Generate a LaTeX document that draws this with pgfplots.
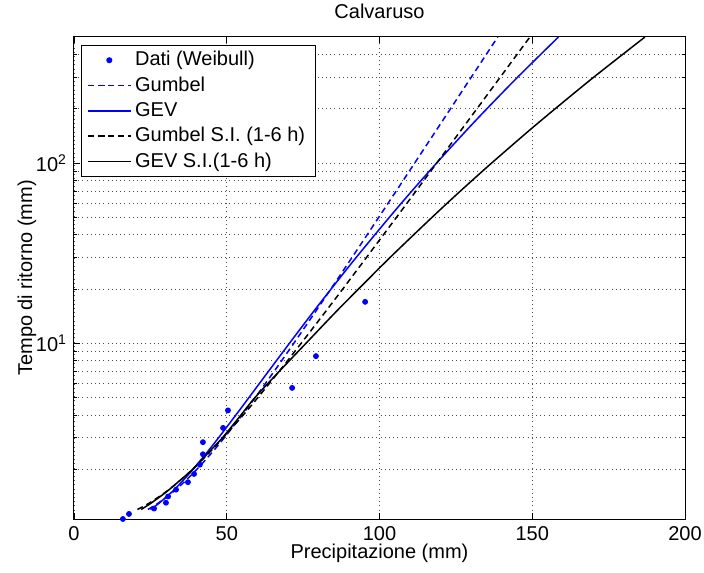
\documentclass[border=0pt]{standalone}
\usepackage{fontspec}
\setmainfont{Liberation Sans}
\usepackage{pgfplots}
\pgfplotsset{compat=1.18}

% punti Weibull: (precipitazione, tempo di ritorno)
\pgfplotstableread{
x T
16.0 1.0625
18.0 1.1333
26.2 1.2143
30.1 1.3077
30.8 1.4167
33.4 1.5455
37.3 1.7
39.3 1.8889
41.2 2.125
42.2 2.4286
42.2 2.8333
48.8 3.4
50.4 4.25
71.4 5.6667
79.2 8.5
95.3 17
}\dati

% curve: T, Gumbel, GEV, Gumbel S.I., GEV S.I.
\pgfplotstableread{
T gum gev gumsi gevsi
1.2 24.18 25.02 20.78 22.0
1.3 27.55 27.84 24.57 25.2
1.5 32.42 32.02 30.02 30.2
1.7 36.02 35.18 34.06 34.0
2 40.18 38.91 38.73 38.8
2.5 45.32 43.65 44.50 44.2
3 49.21 47.33 48.86 48.6
4 54.99 52.95 55.35 54.6
5 59.27 57.23 60.15 59.2
7 65.51 63.65 67.14 67.2
10 71.92 70.49 74.33 75.9
15 79.05 78.38 82.33 85.8
20 84.05 84.13 87.94 93.1
30 91.03 92.40 95.76 103.5
50 99.75 103.22 105.55 117.2
70 105.47 110.60 111.96 126.5
100 111.51 118.69 118.74 136.7
150 118.37 128.18 126.43 148.7
200 123.23 135.15 131.89 157.5
300 130.08 145.27 139.57 170.2
500 138.70 158.58 149.24 186.9
}\curve

\begin{document}
\fontsize{10}{12}\selectfont
\begin{tikzpicture}
\begin{axis}[
    name=ax,
    scale only axis, width=305.5pt, height=241pt,
    xmin=0, xmax=200,
    ymode=log, ymin=1.0625, ymax=500,
    xtick={0,50,100,150,200},
    ytick={10,100}, yticklabels={10\textsuperscript{1},10\textsuperscript{2}},
    minor ytick={2,3,4,5,6,7,8,9,20,30,40,50,60,70,80,90,200,300,400},
    tick align=inside, xtick pos=both, ytick pos=both,
    major tick length=3pt, minor tick length=1.6pt,
    every tick/.style={black, line width=0.4pt},
    grid=both,
    major grid style={black!70, line width=0.4pt, dash pattern=on 0.5pt off 1.6pt},
    minor grid style={black!70, line width=0.4pt, dash pattern=on 0.5pt off 1.6pt},
    axis line style={line width=0.5pt},
    /pgf/number format/assume math mode=true,
    xlabel={Precipitazione (mm)},
    xlabel style={yshift=5pt},
    ylabel={Tempo di ritorno (mm)},
    ylabel style={yshift=-7pt},
    title={Calvaruso},
    title style={yshift=-0.5pt},
    legend cell align=left,
    legend style={at={(0,1)}, anchor=north west, xshift=3.5pt, yshift=-4pt,
        draw=black, line width=0.5pt, inner xsep=3pt, inner ysep=1pt, row sep=0pt},
    legend image code/.code={\draw[mark repeat=2,mark phase=2,#1] plot coordinates {(0cm,0cm) (0.37cm,0cm) (0.74cm,0cm)};},
]
\addplot[only marks, mark=*, mark size=1.25pt, blue] table[x=x, y=T] {\dati};
\addlegendentry{Dati (Weibull)}
\addplot[blue, line width=0.75pt, dash pattern=on 3pt off 2pt, smooth] table[x=gum, y=T] {\curve};
\addlegendentry{Gumbel}
\addplot[blue, line width=0.75pt, smooth] table[x=gev, y=T] {\curve};
\addlegendentry{GEV}
\addplot[black, line width=0.75pt, dash pattern=on 3pt off 2pt, smooth] table[x=gumsi, y=T] {\curve};
\addlegendentry{Gumbel S.I. (1-6 h)}
\addplot[black, line width=0.75pt, smooth] table[x=gevsi, y=T] {\curve};
\addlegendentry{GEV S.I.(1-6 h)}
\end{axis}
\pgfresetboundingbox
\useasboundingbox ([xshift=-37pt,yshift=-26.5pt]ax.south west) rectangle ([xshift=315pt,yshift=259.5pt]ax.south west);
\end{tikzpicture}
\end{document}
